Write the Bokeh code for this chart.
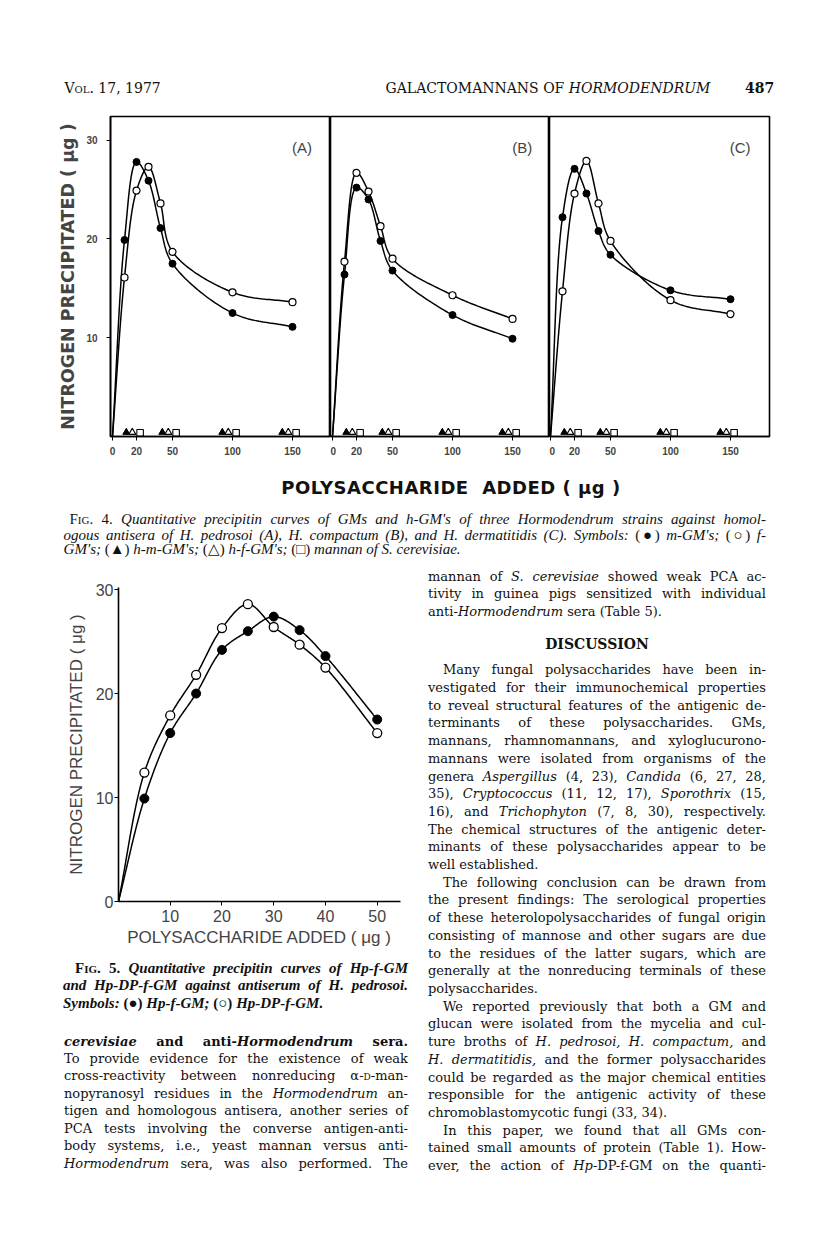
import numpy as np
from bokeh.plotting import figure
from bokeh.models import Div, Label, FixedTicker, Range1d, ColumnDataSource
from bokeh.layouts import row, column
from bokeh.transform import dodge
from bokeh.embed import file_html
from bokeh.resources import INLINE

# ---------------- data ----------------
fig4_dose = [10, 20, 30, 40, 50, 100, 150]
A_m_gm = [19.9, 27.8, 25.9, 21.1, 17.5, 12.5, 11.1]
A_f_gm = [16.1, 24.9, 27.3, 23.6, 18.7, 14.6, 13.6]
B_m_gm = [16.4, 25.2, 24.0, 19.8, 16.8, 12.3, 9.9]
B_f_gm = [17.7, 26.7, 24.8, 21.3, 18.0, 14.3, 11.9]
C_m_gm = [22.2, 27.1, 24.6, 20.8, 18.4, 14.8, 13.9]
C_f_gm = [14.7, 24.6, 27.9, 23.6, 19.8, 13.8, 12.4]
fig4_neg_dose = [20, 50, 100, 150]
h_m_gm = [0, 0, 0, 0]
h_f_gm = [0, 0, 0, 0]
mannan_sc = [0, 0, 0, 0]
fig4_ticks = [0, 20, 50, 100, 150]
fig4_yticks = [10, 20, 30]

fig5_dose = [5, 10, 15, 20, 25, 30, 35, 40, 50]
hp_f_gm = [9.9, 16.2, 20.0, 24.2, 26.0, 27.4, 26.1, 23.6, 17.5]
hp_dp_f_gm = [12.4, 17.9, 21.8, 26.3, 28.6, 26.4, 24.7, 22.5, 16.2]
fig5_xticks = [10, 20, 30, 40, 50]
fig5_yticks = [0, 10, 20, 30]


def smooth(xs, ys, sx, sy, n=30):
    """Centripetal Catmull-Rom curve through the points, starting at the origin."""
    P = np.column_stack([np.r_[0.0, xs] * sx, np.r_[0.0, ys] * sy])
    P = np.vstack([2 * P[0] - P[1], P, 2 * P[-1] - P[-2]])
    out = []
    for i in range(1, len(P) - 2):
        p0, p1, p2, p3 = P[i - 1], P[i], P[i + 1], P[i + 2]
        t0 = 0.0
        t1 = t0 + np.linalg.norm(p1 - p0) ** 0.5
        t2 = t1 + np.linalg.norm(p2 - p1) ** 0.5
        t3 = t2 + np.linalg.norm(p3 - p2) ** 0.5
        t = np.linspace(t1, t2, n)[:, None]
        a1 = (t1 - t) / (t1 - t0) * p0 + (t - t0) / (t1 - t0) * p1
        a2 = (t2 - t) / (t2 - t1) * p1 + (t - t1) / (t2 - t1) * p2
        a3 = (t3 - t) / (t3 - t2) * p2 + (t - t2) / (t3 - t2) * p3
        b1 = (t2 - t) / (t2 - t0) * a1 + (t - t0) / (t2 - t0) * a2
        b2 = (t3 - t) / (t3 - t1) * a2 + (t - t1) / (t3 - t1) * a3
        c = (t2 - t) / (t2 - t1) * b1 + (t - t1) / (t2 - t1) * b2
        out.append(c if i == len(P) - 3 else c[:-1])
    c = np.vstack(out)
    return c[:, 0] / sx, c[:, 1] / sy


SANS = "Liberation Sans"
AXIS_FONT = "DejaVu Sans"


def fig4_panel(m, f, xr, width, lb, rb, tag, first):
    p = figure(width=width, height=348, x_range=Range1d(*xr), y_range=Range1d(0, 32.4),
               output_backend="svg", toolbar_location=None,
               y_axis_location="left" if first else None,
               min_border_left=lb, min_border_right=rb, min_border_top=2, min_border_bottom=26,
               outline_line_color="black", outline_line_width=1.6, margin=0)
    p.grid.visible = False
    xa = p.xaxis[0]
    xa.ticker = FixedTicker(ticks=fig4_ticks)
    xa.axis_line_width = 1.6
    xa.major_tick_out = 4
    xa.major_tick_in = 0
    xa.minor_tick_out = 0
    xa.minor_tick_in = 0
    xa.major_label_standoff = 6
    xa.major_label_text_font = SANS
    xa.major_label_text_font_style = "bold"
    xa.major_label_text_font_size = "10px"
    if first:
        ya = p.yaxis[0]
        ya.ticker = FixedTicker(ticks=fig4_yticks)
        ya.axis_line_width = 1.6
        ya.major_tick_out = 4
        ya.major_tick_in = 0
        ya.minor_tick_out = 0
        ya.minor_tick_in = 0
        ya.major_label_standoff = 9
        ya.major_label_text_font = SANS
        ya.major_label_text_font_style = "bold"
        ya.major_label_text_font_size = "10px"
        ya.axis_label = "NITROGEN PRECIPITATED ( \u03bcg )"
        ya.axis_label_text_font = AXIS_FONT
        ya.axis_label_text_font_style = "bold"
        ya.axis_label_text_font_size = "17.5px"
        ya.axis_label_standoff = 5
    sx, sy = 1.2, 9.885
    for vals in (m, f):
        cx, cy = smooth(fig4_dose, vals, sx, sy)
        p.line(cx, cy, line_color="black", line_width=1.5)
    p.scatter(fig4_dose, f, size=7, marker="circle", fill_color="white", line_color="black", line_width=1.2)
    p.scatter(fig4_dose, m, size=7, marker="circle", fill_color="black", line_color="black")
    src = ColumnDataSource(dict(x=fig4_neg_dose, hm=h_m_gm, hf=h_f_gm, mn=mannan_sc))
    p.scatter(x=dodge("x", -8.5), y=dodge("hm", 0.42), source=src, marker="triangle", size=7,
              fill_color="black", line_color="black")
    p.scatter(x=dodge("x", -3.5), y=dodge("hf", 0.42), source=src, marker="triangle", size=7,
              fill_color="white", line_color="black", line_width=1.1)
    p.scatter(x=dodge("x", 3.0), y=dodge("mn", 0.38), source=src, marker="square", size=6.5,
              fill_color="white", line_color="black", line_width=1.1)
    p.add_layout(Label(x=158, y=29.3, text=tag, text_align="center", text_baseline="middle",
                       text_font=SANS, text_font_size="15px"))
    return p


pA = fig4_panel(A_m_gm, A_f_gm, (-1.67, 181.67), 322, 102, 0, "(A)", True)
pB = fig4_panel(B_m_gm, B_f_gm, (-1.67, 180.8), 219, 0, 0, "(B)", False)
pC = fig4_panel(C_m_gm, C_f_gm, (-0.83, 182.5), 259, 0, 39, "(C)", False)

# ---------------- Fig. 5 ----------------
p5 = figure(width=402, height=393, x_range=Range1d(0, 54.5), y_range=Range1d(0, 30.2),
            output_backend="svg", toolbar_location=None,
            min_border_left=110, min_border_right=10, min_border_top=27, min_border_bottom=52,
            outline_line_color=None, margin=0)
p5.grid.visible = False
xa = p5.xaxis[0]
xa.ticker = FixedTicker(ticks=fig5_xticks)
ya = p5.yaxis[0]
ya.ticker = FixedTicker(ticks=fig5_yticks)
for ax in (xa, ya):
    ax.axis_line_width = 1.6
    ax.major_tick_out = 4
    ax.major_tick_in = 0
    ax.minor_tick_out = 0
    ax.minor_tick_in = 0
    ax.major_label_text_font = SANS
    ax.major_label_text_font_size = "16px"
    ax.axis_label_text_font = SANS
    ax.axis_label_text_font_style = "normal"
    ax.axis_label_text_font_size = "17px"
xa.major_label_standoff = 4
xa.axis_label = "POLYSACCHARIDE ADDED ( \u03bcg )"
xa.axis_label_standoff = 3
ya.major_label_standoff = 1
ya.axis_label = "NITROGEN PRECIPITATED ( \u03bcg )"
ya.axis_label_standoff = 7
for vals in (hp_f_gm, hp_dp_f_gm):
    cx, cy = smooth(fig5_dose, vals, 5.17, 10.4)
    p5.line(cx, cy, line_color="black", line_width=1.5)
p5.scatter(fig5_dose, hp_dp_f_gm, size=9, marker="circle", fill_color="white", line_color="black", line_width=1.3)
p5.scatter(fig5_dose, hp_f_gm, size=9, marker="circle", fill_color="black", line_color="black")

# ---------------- page text ----------------
SERIF = "'DejaVu Serif'"
CAP = "'Liberation Serif'"


def ln(x, yc, w, html, align="justify", size=13, lh=17, font=SERIF, extra=""):
    top = yc - lh / 2
    if align == "justify":
        al = "text-align:justify;text-align-last:justify;"
    elif align == "center":
        al = "text-align:center;"
    else:
        al = "text-align:left;"
    return (f'<div style="position:absolute;left:{x:.1f}px;top:{top:.1f}px;width:{w:.1f}px;'
            f'height:{lh}px;line-height:{lh}px;font-size:{size}px;font-family:{font};'
            f'white-space:nowrap;{al}{extra}">{html}</div>')


def box(w, h, lines):
    return (f'<div style="position:relative;width:{w}px;height:{h}px;color:#111;">'
            + "".join(lines) + '</div>')


SC = '<span style="font-variant:small-caps">'

# header (page origin 8,8)
hdr = box(800, 106, [
    ln(56.5, 80.5, 120, f"{SC}Vol.</span> 17, 1977", align="left", size=14),
    ln(375, 80.5, 330, "GALACTOMANNANS OF <i>HORMODENDRUM</i>", align="center", size=14),
    ln(737, 80.5, 40, "<b>487</b>", align="left", size=14),
])
d_hdr = Div(text=hdr, width=800, height=106, margin=0)

# caption of Fig. 4 (page origin 8,464)
cap4 = box(800, 98, [
    ln(193, 25.5, 500, "POLYSACCHARIDE&nbsp; ADDED ( \u03bcg )", align="center", size=18, lh=22,
       font="'DejaVu Sans'", extra="font-weight:bold;letter-spacing:0.5px;"),
    ln(61.5, 57.7, 696.5, f"{SC}Fig.</span> 4. <i>Quantitative precipitin curves of GMs and h-GM's of three "
       "Hormodendrum strains against homol-</i>", size=15, lh=15, font=CAP),
    ln(55.6, 73.3, 702.4, "<i>ogous antisera of H. pedrosoi (A), H. compactum (B), and H. dermatitidis (C). "
       "Symbols:</i> (\u25cf) <i>m-GM's;</i> (\u25cb) <i>f-</i>", size=15, lh=15, font=CAP),
    ln(55.6, 87.6, 500, "<i>GM's;</i> (\u25b2) <i>h-m-GM's;</i> (\u25b3) <i>h-f-GM's;</i> (\u25a1) "
       "<i>mannan of S. cerevisiae.</i>", align="left", size=15, lh=15, font=CAP),
])
d_cap4 = Div(text=cap4, width=800, height=98, margin=0)

# left column text below Fig. 5 (page origin 8,955)
left_lines = [
    ("<b><i>cerevisiae</i> and anti-<i>Hormodendrum</i> sera.</b>", "j"),
    ("To provide evidence for the existence of weak", "j"),
    (f"cross-reactivity between nonreducing \u03b1-{SC}d</span>-man-", "j"),
    ("nopyranosyl residues in the <i>Hormodendrum</i> an-", "j"),
    ("tigen and homologous antisera, another series of", "j"),
    ("PCA tests involving the converse antigen-anti-", "j"),
    ("body systems, i.e., yeast mannan versus anti-", "j"),
    ("<i>Hormodendrum</i> sera, was also performed. The", "j"),
]
L = [
    ln(67, 15, 333, f"{SC}Fig.</span> 5. <i>Quantitative precipitin curves of Hp-f-GM</i>",
       size=15, lh=17, font=CAP, extra="font-weight:bold;"),
    ln(55, 32.7, 345, "<i>and Hp-DP-f-GM against antiserum of H. pedrosoi.</i>",
       size=15, lh=17, font=CAP, extra="font-weight:bold;"),
    ln(55, 50, 345, "<i>Symbols:</i> (\u25cf) <i>Hp-f-GM;</i> (\u25cb) <i>Hp-DP-f-GM.</i>", align="left",
       size=15, lh=17, font=CAP, extra="font-weight:bold;"),
]
for i, (t, a) in enumerate(left_lines):
    L.append(ln(56, 88 + i * 17.47, 344, t))
d_left = Div(text=box(402, 286, L), width=402, height=286, margin=0)

# right column (page origin 410,562)
right_lines = [
    ("mannan of <i>S. cerevisiae</i> showed weak PCA ac-", "j", 0),
    ("tivity in guinea pigs sensitized with individual", "j", 0),
    ("anti-<i>Hormodendrum</i> sera (Table 5).", "l", 0),
    None,
    None,
    ("Many fungal polysaccharides have been in-", "j", 15),
    ("vestigated for their immunochemical properties", "j", 0),
    ("to reveal structural features of the antigenic de-", "j", 0),
    ("terminants of these polysaccharides. GMs,", "j", 0),
    ("mannans, rhamnomannans, and xyloglucurono-", "j", 0),
    ("mannans were isolated from organisms of the", "j", 0),
    ("genera <i>Aspergillus</i> (4, 23), <i>Candida</i> (6, 27, 28,", "j", 0),
    ("35), <i>Cryptococcus</i> (11, 12, 17), <i>Sporothrix</i> (15,", "j", 0),
    ("16), and <i>Trichophyton</i> (7, 8, 30), respectively.", "j", 0),
    ("The chemical structures of the antigenic deter-", "j", 0),
    ("minants of these polysaccharides appear to be", "j", 0),
    ("well established.", "l", 0),
    ("The following conclusion can be drawn from", "j", 15),
    ("the present findings: The serological properties", "j", 0),
    ("of these heterolopolysaccharides of fungal origin", "j", 0),
    ("consisting of mannose and other sugars are due", "j", 0),
    ("to the residues of the latter sugars, which are", "j", 0),
    ("generally at the nonreducing terminals of these", "j", 0),
    ("polysaccharides.", "l", 0),
    ("We reported previously that both a GM and", "j", 15),
    ("glucan were isolated from the mycelia and cul-", "j", 0),
    ("ture broths of <i>H. pedrosoi, H. compactum,</i> and", "j", 0),
    ("<i>H. dermatitidis,</i> and the former polysaccharides", "j", 0),
    ("could be regarded as the major chemical entities", "j", 0),
    ("responsible for the antigenic activity of these", "j", 0),
    ("chromoblastomycotic fungi (33, 34).", "l", 0),
    ("In this paper, we found that all GMs con-", "j", 15),
    ("tained small amounts of protein (Table 1). How-", "j", 0),
    ("ever, the action of <i>Hp</i>-DP-f-GM on the quanti-", "j", 0),
]
R = []
y0 = 16.0
pitch = 17.71
for i, item in enumerate(right_lines):
    if item is None:
        continue
    t, a, ind = item
    yc = (671.7 - 562) + (i - 5) * pitch if i >= 5 else y0 + i * pitch
    R.append(ln(18 + ind, yc, 338 - ind, t, align="justify" if a == "j" else "left"))
R.append(ln(18, 646.7 - 562, 338, "<b>DISCUSSION</b>", align="center", size=14))
d_right = Div(text=box(398, 679, R), width=398, height=679, margin=0)

layout = column(
    d_hdr,
    row(pA, pB, pC, spacing=0),
    d_cap4,
    row(column(p5, d_left, spacing=0), d_right, spacing=0),
    spacing=0,
    margin=(8, 0, 0, 8),
)

open("out.html", "w").write(file_html(layout, INLINE))
